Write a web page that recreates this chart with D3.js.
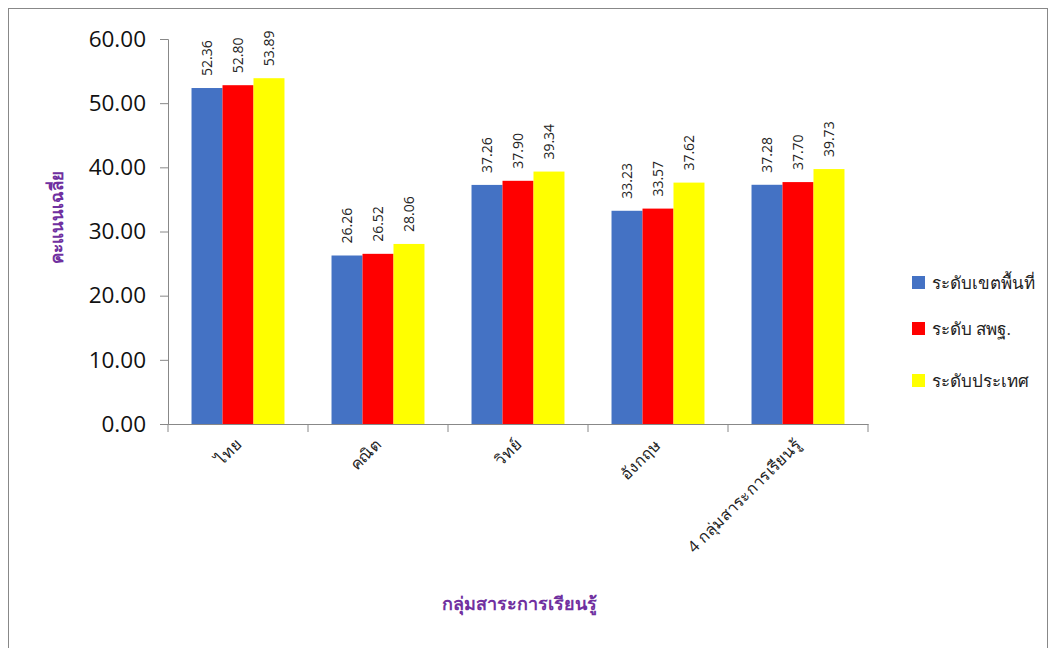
<!DOCTYPE html>
<html><head><meta charset="utf-8">
<script src="https://cdn.jsdelivr.net/npm/d3@7"></script>
<style>body{margin:0;background:#fff}svg{display:block}</style>
</head><body>
<svg id="c" width="1056" height="648"></svg>
<script>
const categories = ["ไทย","คณิต","วิทย์","อังกฤษ","4 กลุ่มสาระการเรียนรู้"];
const seriesNames = ["ระดับเขตพื้นที่","ระดับ สพฐ.","ระดับประเทศ"];
const seriesColors = ["#4472C4","#FF0000","#FFFF00"];
const area = [52.36,26.26,37.26,33.23,37.28];
const obec = [52.80,26.52,37.90,33.57,37.70];
const nation = [53.89,28.06,39.34,37.62,39.73];
const yTicks = [0,10,20,30,40,50,60];
const series = [area, obec, nation];

const svg = d3.select("#c");
const font = "'Open Sans','Noto Sans',sans-serif";
svg.append("rect").attr("x",8.5).attr("y",8.5).attr("width",1039).attr("height",648).attr("fill","none").attr("stroke","#888");

const x0 = d3.scaleBand().domain(categories).range([168,868]).paddingInner(0.336).paddingOuter(0.168);
const xTick = d3.scaleBand().domain(categories).range([168,868]);
const x1 = d3.scaleBand().domain(d3.range(3)).range([0,x0.bandwidth()]);
const y = d3.scaleLinear().domain([0,60]).range([424,39]);

// bars
series.forEach((vals,si)=>{
  svg.append("g").selectAll("rect").data(vals).join("rect")
    .attr("x",(d,i)=>x0(categories[i])+x1(si))
    .attr("y",d=>y(d)).attr("width",x1.bandwidth()).attr("height",d=>y(0)-y(d))
    .attr("fill",seriesColors[si]);
  svg.append("g").selectAll("text").data(vals).join("text")
    .attr("transform",(d,i)=>`translate(${x0(categories[i])+x1(si)+x1.bandwidth()/2+5},${y(d)-12}) rotate(-90)`)
    .attr("font-family",font).attr("font-size",14).attr("fill","#222")
    .text(d=>d.toFixed(2));
});

// y axis
const ya = svg.append("g").attr("transform","translate(168,0)")
  .call(d3.axisLeft(y).tickValues(yTicks).tickFormat(d=>d.toFixed(2)).tickSize(8).tickPadding(14));
ya.select(".domain").attr("stroke","#888");
ya.selectAll(".tick line").attr("stroke","#888");
ya.selectAll("text").attr("font-family",font).attr("font-size",22.5).attr("fill","#111");

// x axis
const xa = svg.append("g").attr("transform","translate(0,424)")
  .call(d3.axisBottom(xTick).tickSize(0).tickFormat(""));
xa.select(".domain").attr("stroke","#888");
const tickPos = d3.range(categories.length+1).map(i=>168+i*xTick.step());
svg.append("g").selectAll("line").data(tickPos).join("line")
  .attr("x1",d=>d).attr("x2",d=>d).attr("y1",424).attr("y2",432).attr("stroke","#888");
svg.append("g").selectAll("text").data(categories).join("text")
  .attr("transform",d=>`translate(${xTick(d)+xTick.bandwidth()/2+4},446) rotate(-45)`)
  .attr("text-anchor","end").attr("font-family",font).attr("font-size",16).attr("fill","#222")
  .text(d=>d);

// axis titles
svg.append("text").attr("x",519).attr("y",610).attr("text-anchor","middle")
  .attr("font-family",font).attr("font-size",18).attr("font-weight","bold").attr("fill","#7030A0")
  .text("กลุ่มสาระการเรียนรู้");
svg.append("text").attr("transform","translate(63,217) rotate(-90)").attr("text-anchor","middle")
  .attr("font-family",font).attr("font-size",17).attr("font-weight","bold").attr("fill","#7030A0")
  .text("คะแนนเฉลี่ย");

// legend
const lg = svg.append("g").selectAll("g").data(seriesNames).join("g")
  .attr("transform",(d,i)=>`translate(912,${[283,329,381][i]})`);
lg.append("rect").attr("x",0).attr("y",-7).attr("width",13).attr("height",13).attr("fill",(d,i)=>seriesColors[i]);
lg.append("text").attr("x",20).attr("y",6).attr("font-family",font).attr("font-size",17).attr("fill","#222").text(d=>d);
</script>
</body></html>
